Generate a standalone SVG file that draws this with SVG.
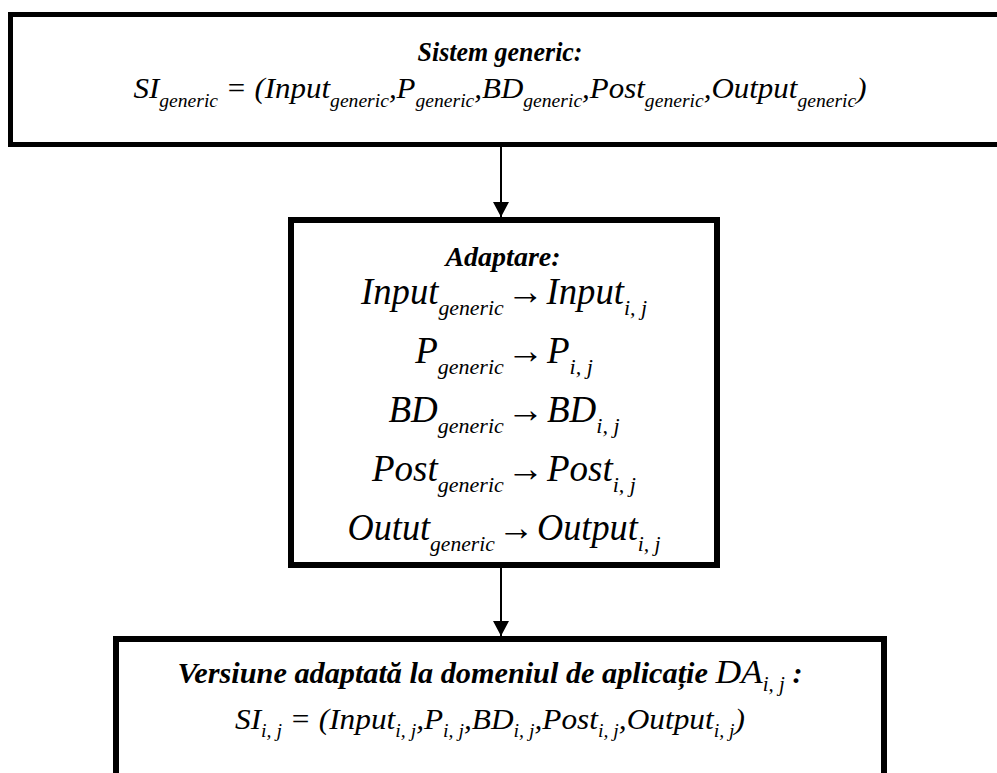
<svg xmlns="http://www.w3.org/2000/svg" width="997" height="773" viewBox="0 0 997 773">
<style>
.box{fill:#fff;stroke:#000;stroke-width:6}
.t{font-family:"Liberation Serif","Times New Roman",serif;fill:#000}
.bi{font-weight:bold;font-style:italic}
.m{font-style:italic}
.ar{font-style:normal}
.conn{stroke:#000;stroke-width:2;fill:none}
</style>
<defs>
<marker id="ah" markerUnits="userSpaceOnUse" markerWidth="16" markerHeight="16" refX="15" refY="8" orient="auto">
<path d="M0,0 L15,8 L0,16 z" fill="#000"/>
</marker>
</defs>
<rect width="997" height="773" fill="#fff"/>
<g id="connectors">
<line class="conn" x1="501" y1="147" x2="501" y2="217" marker-end="url(#ah)"/>
<line class="conn" x1="501" y1="568" x2="501" y2="636" marker-end="url(#ah)"/>
</g>
<g id="sistem-generic">
<rect class="box" x="10.5" y="14.5" width="1000" height="130" style="stroke-width:5"/>
<text class="t bi" x="500" y="61" font-size="27" text-anchor="middle" textLength="165" lengthAdjust="spacingAndGlyphs">Sistem generic:</text>
<text class="t m" x="500" y="98" font-size="30" text-anchor="middle" textLength="733" lengthAdjust="spacingAndGlyphs">SI<tspan font-size="19" dy="9">generic</tspan><tspan dy="-9"> = (Input</tspan><tspan font-size="19" dy="9">generic</tspan><tspan dy="-9">,P</tspan><tspan font-size="19" dy="9">generic</tspan><tspan dy="-9">,BD</tspan><tspan font-size="19" dy="9">generic</tspan><tspan dy="-9">,Post</tspan><tspan font-size="19" dy="9">generic</tspan><tspan dy="-9">,Output</tspan><tspan font-size="19" dy="9">generic</tspan><tspan dy="-9">)</tspan></text>
</g>
<g id="adaptare">
<rect class="box" x="291" y="220" width="426" height="345"/>
<text class="t bi" x="503" y="266" font-size="28" text-anchor="middle">Adaptare:</text>
<text class="t m" x="504" y="304" font-size="37" text-anchor="middle" textLength="286" lengthAdjust="spacingAndGlyphs">Input<tspan font-size="22" dy="11">generic</tspan><tspan class="ar" dy="-11">&#8202;→&#8202;</tspan>Input<tspan font-size="22" dy="11">i, j</tspan></text>
<text class="t m" x="504" y="363" font-size="37" text-anchor="middle">P<tspan font-size="22" dy="11">generic</tspan><tspan class="ar" dy="-11">&#8202;→&#8202;</tspan>P<tspan font-size="22" dy="11">i, j</tspan></text>
<text class="t m" x="504" y="422" font-size="37" text-anchor="middle">BD<tspan font-size="22" dy="11">generic</tspan><tspan class="ar" dy="-11">&#8202;→&#8202;</tspan>BD<tspan font-size="22" dy="11">i, j</tspan></text>
<text class="t m" x="504" y="481" font-size="37" text-anchor="middle">Post<tspan font-size="22" dy="11">generic</tspan><tspan class="ar" dy="-11">&#8202;→&#8202;</tspan>Post<tspan font-size="22" dy="11">i, j</tspan></text>
<text class="t m" x="504" y="540" font-size="37" text-anchor="middle" textLength="313" lengthAdjust="spacingAndGlyphs">Outut<tspan font-size="22" dy="11">generic</tspan><tspan class="ar" dy="-11">&#8202;→&#8202;</tspan>Output<tspan font-size="22" dy="11">i, j</tspan></text>
</g>
<g id="versiune-adaptata">
<rect class="box" x="116" y="639" width="768" height="200"/>
<text class="t bi" x="490" y="683" font-size="29" text-anchor="middle" textLength="625" lengthAdjust="spacingAndGlyphs">Versiune adaptată la domeniul de aplicație <tspan font-weight="normal" font-size="34">DA</tspan><tspan font-weight="normal" font-size="20" dy="8">i, j</tspan><tspan dy="-8"> :</tspan></text>
<text class="t m" x="490" y="729" font-size="30" text-anchor="middle" textLength="510" lengthAdjust="spacingAndGlyphs">SI<tspan font-size="19" dy="8">i, j</tspan><tspan dy="-8"> = (Input</tspan><tspan font-size="19" dy="8">i, j</tspan><tspan dy="-8">,P</tspan><tspan font-size="19" dy="8">i, j</tspan><tspan dy="-8">,BD</tspan><tspan font-size="19" dy="8">i, j</tspan><tspan dy="-8">,Post</tspan><tspan font-size="19" dy="8">i, j</tspan><tspan dy="-8">,Output</tspan><tspan font-size="19" dy="8">i, j</tspan><tspan dy="-8">)</tspan></text>
</g>
</svg>
